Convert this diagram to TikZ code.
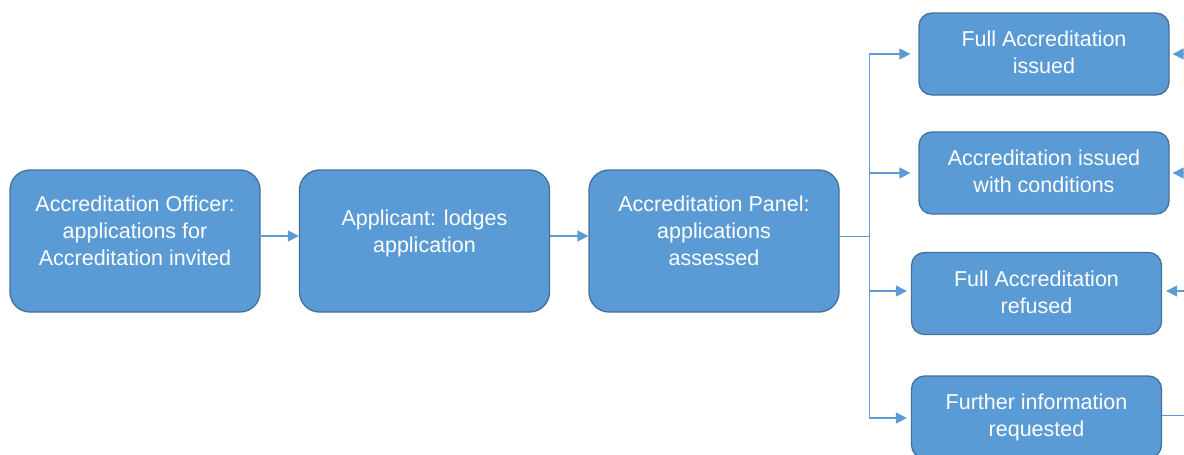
\documentclass[tikz,border=0pt]{standalone}
\usepackage{fontspec}
\setmainfont{Liberation Sans}
\usetikzlibrary{arrows.meta}
\definecolor{boxBlue}{HTML}{5B9BD5}
\definecolor{edgeBlue}{HTML}{41719C}
\begin{document}
\begin{tikzpicture} [x=1pt,y=-1pt,
	stage/.style={shape=rectangle,rounded corners=20pt,minimum width=250pt,minimum height=142pt,draw=edgeBlue,line width=1.3pt,fill=boxBlue,text=white,align=center,font=\fontsize{21.5}{26.8}\selectfont,text depth=20pt},
	outcome/.style={stage,rounded corners=13pt,minimum height=82pt,text depth=3pt},
	flow/.style={-{Triangle[length=11pt,width=11pt]},draw=boxBlue,line width=1.4pt}]
	\clip (0,0) rectangle (1184,455);
	\fill[white] (0,0) rectangle (1184,455);

	\node (officerNode) at (135,241)[stage] {Accreditation Officer:\\applications for\\Accreditation invited};
	\node (applicantNode) at (424.5,241)[stage] {Applicant: lodges\\application};
	\node (panelNode) at (714,241)[stage] {Accreditation Panel:\\applications\\assessed};

	\node (issuedNode) at (1044,54)[outcome] {Full Accreditation\\issued};
	\node (conditionsNode) at (1044,173)[outcome] {Accreditation issued\\with conditions};
	\node (refusedNode) at (1036.5,293.5)[outcome] {Full Accreditation\\refused};
	\node (furtherNode) at (1036.5,417)[outcome] {Further information\\requested};

	\coordinate (split) at (869,236);
	\coordinate (splitTop) at (869,54);
	\coordinate (splitBottom) at (869,418);

	\draw[flow] (officerNode.east |- split) -- (applicantNode.west |- split);
	\draw[flow] (applicantNode.east |- split) -- (panelNode.west |- split);

	\draw[draw=boxBlue,line width=1pt] (panelNode.east |- split) -- (split);
	\draw[draw=boxBlue,line width=1pt] (splitTop) -- (splitBottom);
	\draw[flow] (splitTop) -- ([xshift=-8pt]issuedNode.west);
	\draw[flow] (splitTop |- conditionsNode) -- ([xshift=-8pt]conditionsNode.west);
	\draw[flow] (split |- 0,291) -- ([xshift=-4pt]refusedNode.west |- 0,291);
	\draw[flow] (splitBottom) -- ([xshift=-4pt]furtherNode.west |- splitBottom);

	% returns from the right
	\coordinate (backIssued) at (1200,54);
	\coordinate (backConditions) at (1200,173);
	\coordinate (backRefused) at (1200,291);
	\coordinate (backFurther) at (1200,415);
	\draw[flow] (backIssued) -- ([xshift=3pt]issuedNode.east);
	\draw[flow] (backConditions) -- ([xshift=3pt]conditionsNode.east);
	\draw[flow] (backRefused) -- ([xshift=4pt]refusedNode.east |- backRefused);
	\draw[draw=boxBlue,line width=1pt] (furtherNode.east |- backFurther) -- (backFurther);
\end{tikzpicture}
\end{document}
